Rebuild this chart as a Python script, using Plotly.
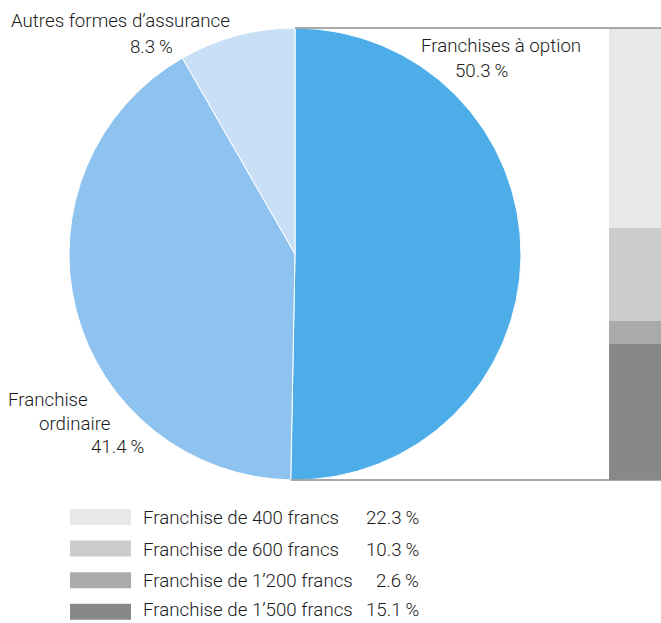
import math
import plotly.graph_objects as go

# Répartition des assurés par forme d'assurance (%)
pie_labels = ["Franchises à option", "Franchise ordinaire", "Autres formes d’assurance"]
pie_values = [50.3, 41.4, 8.3]
pie_colors = ["#4DADE8", "#8EC3F0", "#C9DFF6"]

# Détail des franchises à option (%), de haut en bas
opt_labels = ["Franchise de 400 francs", "Franchise de 600 francs",
              "Franchise de 1’200 francs", "Franchise de 1’500 francs"]
opt_values = [22.3, 10.3, 2.6, 15.1]
opt_colors = ["#E8E8E8", "#CCCCCC", "#AAAAAA", "#888888"]

W, H = 661, 623
FONT = dict(family="Roboto, 'Liberation Sans', Arial", size=18.7, color="#1A1A1A", weight=300)

def pct(v):
    return f"{v:.1f}\u2009%"

# pie geometry (pixels)
cx, cy, r = 295, 254, 226
dom_x = [(cx - r) / W, (cx + r) / W]
dom_y = [1 - (cy + r) / H, 1 - (cy - r) / H]

fig = go.Figure()
fig.add_trace(go.Pie(
    labels=pie_labels, values=pie_values, sort=False, direction="clockwise",
    rotation=0, marker=dict(colors=pie_colors, line=dict(color="white", width=1)),
    textinfo="none", hoverinfo="label+percent", showlegend=False,
    domain=dict(x=dom_x, y=dom_y),
))

# stacked bar, drawn bottom-up
for lab, val, col in reversed(list(zip(opt_labels, opt_values, opt_colors))):
    fig.add_trace(go.Bar(x=[0], y=[val], name=lab, marker=dict(color=col, line=dict(width=0)),
                         width=1, showlegend=False, xaxis="x", yaxis="y"))

fig.update_layout(
    width=W, height=H, margin=dict(l=0, r=0, t=0, b=0),
    paper_bgcolor="white", plot_bgcolor="rgba(0,0,0,0)",
    barmode="stack", bargap=0,
    xaxis=dict(domain=[609 / W, 1], range=[-0.5, 0.5], visible=False, fixedrange=True),
    yaxis=dict(domain=dom_y, range=[0, sum(opt_values)], visible=False, fixedrange=True),
    font=FONT,
)

# connector lines from the "à option" slice edges to the bar
end_angle = 2 * math.pi * pie_values[0] / sum(pie_values)
x_top = cx + r * math.sin(0)
x_bot = cx + r * math.sin(end_angle)
line_style = dict(color="#8C8C8C", width=1.5)
fig.add_shape(type="line", xref="paper", yref="paper", x0=x_top / W, x1=1,
              y0=dom_y[1], y1=dom_y[1], line=line_style)
fig.add_shape(type="line", xref="paper", yref="paper", x0=x_bot / W, x1=1,
              y0=dom_y[0], y1=dom_y[0], line=line_style)

def text(x, y, s, anchor="center"):
    fig.add_annotation(x=x / W, y=1 - y / H, xref="paper", yref="paper", text=s,
                       showarrow=False, xanchor=anchor, yanchor="middle", font=FONT,
                       borderpad=0)

# slice labels
text(501, 46, pie_labels[0])
text(481, 71, pct(pie_values[0]))
text(120, 21, pie_labels[2])
text(151, 47, pct(pie_values[2]))
text(7, 400, "Franchise", "left")
text(111, 424, "ordinaire", "right")
text(145, 447, pct(pie_values[1]), "right")

# legend for the bar
for i, (lab, val, col) in enumerate(zip(opt_labels, opt_values, opt_colors)):
    yc = 517 + i * 31.6
    fig.add_shape(type="rect", xref="paper", yref="paper",
                  x0=70 / W, x1=131 / W, y0=1 - (yc + 8) / H, y1=1 - (yc - 8) / H,
                  fillcolor=col, line=dict(width=0))
    ty = min(yc + 1, 610)
    text(142, ty, lab, "left")
    text(420, ty, pct(val), "right")

fig.write_html("out.html")
